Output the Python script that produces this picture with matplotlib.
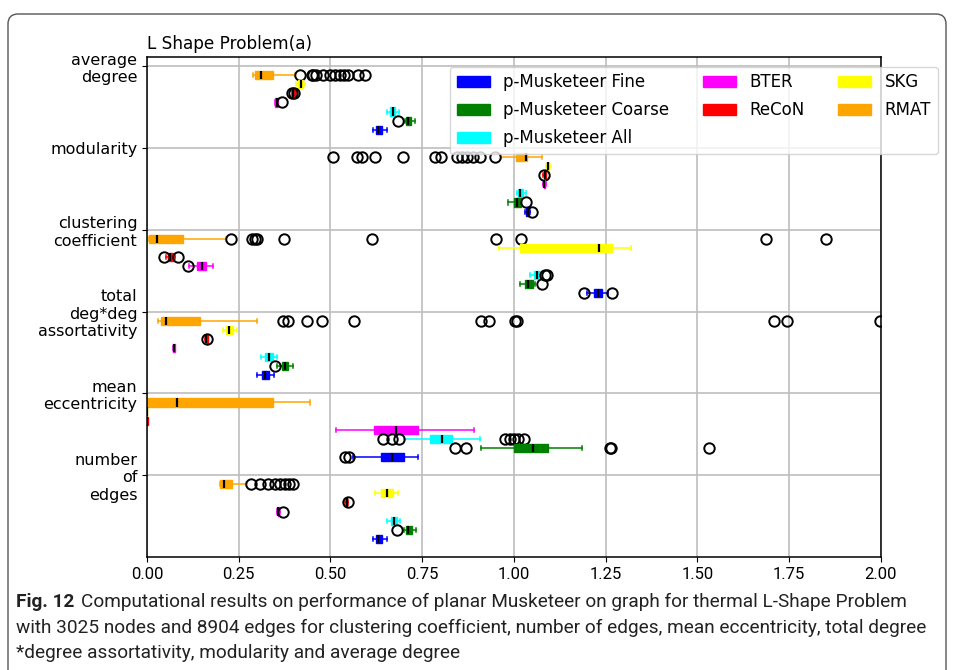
import matplotlib
matplotlib.use("Agg")
import matplotlib.pyplot as plt
from matplotlib import font_manager
from matplotlib.patches import Patch, FancyBboxPatch

methods = ["RMAT", "SKG", "ReCoN", "BTER",
           "p-Musketeer All", "p-Musketeer Coarse", "p-Musketeer Fine"]
colors = ["orange", "yellow", "red", "magenta", "cyan", "green", "blue"]
metric_labels = ["average\ndegree", "modularity", "clustering\ncoefficient",
                 "total\ndeg*deg\nassortativity", "mean\neccentricity",
                 "number\nof\nedges"]

# (whislo, q1, median, q3, whishi), one tuple per method in the order above
average_degree = [(0.290, 0.295, 0.310, 0.343, 0.403),
                  (0.405, 0.412, 0.420, 0.426, 0.430),
                  (0.394, 0.396, 0.399, 0.403, 0.405),
                  (0.348, 0.350, 0.353, 0.356, 0.358),
                  (0.655, 0.663, 0.670, 0.677, 0.686),
                  (0.703, 0.707, 0.711, 0.720, 0.730),
                  (0.617, 0.623, 0.630, 0.640, 0.654)]
average_degree_out = [[0.417, 0.449, 0.453, 0.460, 0.480, 0.499, 0.512, 0.526,
                       0.537, 0.549, 0.576, 0.594],
                      [], [0.395, 0.401], [0.367], [], [0.683], []]

modularity = [(0.965, 1.005, 1.033, 1.036, 1.075),
              (1.088, 1.090, 1.093, 1.096, 1.098),
              (1.080, 1.082, 1.084, 1.086, 1.088),
              (1.080, 1.081, 1.083, 1.085, 1.086),
              (1.007, 1.011, 1.016, 1.025, 1.034),
              (0.984, 1.000, 1.009, 1.018, 1.020),
              (1.030, 1.033, 1.038, 1.042, 1.044)]
modularity_out = [[0.507, 0.571, 0.585, 0.621, 0.698, 0.785, 0.800, 0.845,
                   0.857, 0.871, 0.889, 0.907, 0.948],
                  [], [1.081], [], [], [1.033], [1.048]]

clustering = [(0.005, 0.006, 0.026, 0.097, 0.215),
              (0.960, 1.016, 1.232, 1.268, 1.320),
              (0.052, 0.058, 0.063, 0.070, 0.076),
              (0.115, 0.137, 0.149, 0.162, 0.181),
              (1.044, 1.054, 1.062, 1.071, 1.075),
              (1.015, 1.030, 1.039, 1.051, 1.057),
              (1.198, 1.218, 1.230, 1.239, 1.257)]
clustering_out = [[0.228, 0.285, 0.294, 0.299, 0.374, 0.614, 0.951, 1.019,
                   1.687, 1.849],
                  [], [0.045, 0.084], [0.111], [1.084, 1.089], [1.075],
                  [1.191, 1.268]]

assortativity = [(0.031, 0.037, 0.052, 0.144, 0.300),
                 (0.206, 0.215, 0.224, 0.235, 0.244),
                 (0.158, 0.160, 0.162, 0.165, 0.167),
                 (0.071, 0.072, 0.074, 0.076, 0.077),
                 (0.310, 0.322, 0.333, 0.344, 0.353),
                 (0.353, 0.367, 0.376, 0.385, 0.399),
                 (0.300, 0.312, 0.322, 0.333, 0.346)]
assortativity_out = [[0.370, 0.385, 0.437, 0.478, 0.564, 0.909, 0.932, 1.003,
                      1.009, 1.709, 1.745, 1.997],
                     [], [0.164], [], [], [0.349], []]

eccentricity = [(0.000, 0.000, 0.083, 0.342, 0.444),
                (0.000, 0.000, 0.000, 0.000, 0.000),
                (0.000, 0.000, 0.001, 0.002, 0.003),
                (0.515, 0.619, 0.678, 0.739, 0.892),
                (0.699, 0.771, 0.803, 0.830, 0.906),
                (0.910, 1.001, 1.053, 1.092, 1.184),
                (0.562, 0.637, 0.668, 0.699, 0.739)]
eccentricity_out = [[], [], [], [],
                    [0.644, 0.667, 0.687, 0.976, 0.990, 1.000, 1.010, 1.027],
                    [0.839, 0.869, 1.262, 1.265, 1.530],
                    [0.540, 0.551]]

num_edges = [(0.199, 0.200, 0.210, 0.231, 0.270),
             (0.621, 0.637, 0.655, 0.671, 0.685),
             (0.540, 0.542, 0.544, 0.546, 0.548),
             (0.354, 0.356, 0.358, 0.361, 0.363),
             (0.655, 0.665, 0.673, 0.680, 0.689),
             (0.699, 0.705, 0.712, 0.722, 0.733),
             (0.617, 0.623, 0.630, 0.640, 0.653)]
num_edges_out = [[0.283, 0.308, 0.331, 0.349, 0.362, 0.376, 0.388, 0.397],
                 [], [0.548], [0.370], [], [0.682], []]

groups = [(average_degree, average_degree_out), (modularity, modularity_out),
          (clustering, clustering_out), (assortativity, assortativity_out),
          (eccentricity, eccentricity_out), (num_edges, num_edges_out)]

plt.rcParams['font.family'] = ['DejaVu Sans']
installed = {f.name for f in font_manager.fontManager.ttflist}
narrow = next(f for f in ["Liberation Sans Narrow", "Roboto", "DejaVu Sans"]
              if f in installed or f == "DejaVu Sans")

W, H = 954, 670
fig = plt.figure(figsize=(W / 100, H / 100), dpi=100)
ax = fig.add_axes([147 / W, 1 - 557 / H, 734 / W, 500 / H])

step = 9
for k, (name, col) in enumerate(zip(methods, colors)):
    stats, pos = [], []
    for g, (vals, outs) in enumerate(groups):
        lo, q1, med, q3, hi = vals[k]
        stats.append(dict(whislo=lo, q1=q1, med=med, q3=q3, whishi=hi,
                          fliers=outs[k]))
        pos.append(g * step + 1 + k)
    ax.bxp(stats, positions=pos, widths=0.9, orientation="horizontal",
           patch_artist=True, manage_ticks=False,
           boxprops=dict(facecolor=col, edgecolor=col, linewidth=1),
           whiskerprops=dict(color=col, linewidth=1.1),
           capprops=dict(color=col, linewidth=1.1),
           medianprops=dict(color="black", linewidth=1.6),
           flierprops=dict(marker="o", markerfacecolor="none",
                           markeredgecolor="black", markersize=7.5,
                           markeredgewidth=1.4))

ax.set_xlim(0, 2)
ax.set_ylim(54, -1)
ax.set_xticks([0, 0.25, 0.5, 0.75, 1.0, 1.25, 1.5, 1.75, 2.0])
ax.set_xticklabels(["%.2f" % v for v in ax.get_xticks()], fontsize=12,
                   family=narrow)
ax.set_yticks([g * step for g in range(len(metric_labels))])
ax.set_yticklabels(metric_labels, fontsize=11.5, family="DejaVu Sans")
ax.grid(True, color="#bdbdbd", linewidth=1.2)
ax.set_axisbelow(True)
for s in ax.spines.values():
    s.set_linewidth(1.1)
ax.set_title("L Shape Problem(a)", loc="left", fontsize=12.2,
             family="DejaVu Sans")

handles = [Patch(facecolor=c, edgecolor=c) for c in colors[::-1]]
ax.legend(handles, methods[::-1], ncol=3, loc="upper left",
          bbox_to_anchor=(0.4128, 0.9806),
          prop=dict(family="DejaVu Sans", size=12),
          handlelength=2.0, handleheight=0.6, handletextpad=0.8,
          columnspacing=2.0, labelspacing=0.6, borderaxespad=0)

# caption under the chart
lines = ["Computational results on performance of planar Musketeer on graph for thermal L-Shape Problem",
         "with 3025 nodes and 8904 edges for clustering coefficient, number of edges, mean eccentricity, total degree",
         "*degree assortativity, modularity and average degree"]
fig.canvas.draw()
r = fig.canvas.get_renderer()
probe = fig.text(0, 0, lines[1], fontsize=14, family=narrow)
size = 14 * 918 / probe.get_window_extent(r).width
probe.remove()
ys = [602, 628, 653]
lab = fig.text(16 / W, 1 - ys[0] / H, "Fig. 12", fontsize=size, family=narrow,
               weight="bold", va="center", color="#222222")
x1 = lab.get_window_extent(r).x1 + size * 0.5
fig.text(x1 / W, 1 - ys[0] / H, lines[0], fontsize=size, family=narrow,
         va="center", color="#222222")
for line, y in zip(lines[1:], ys[1:]):
    fig.text(16 / W, 1 - y / H, line, fontsize=size, family=narrow,
             va="center", color="#222222")

frame = FancyBboxPatch((0.08, -0.3), 9.38, 6.86,
                       boxstyle="round,pad=0,rounding_size=0.1",
                       transform=fig.dpi_scale_trans, facecolor="none",
                       edgecolor="#555555", linewidth=1.0)
fig.add_artist(frame)

fig.savefig("out.png", dpi=100)
